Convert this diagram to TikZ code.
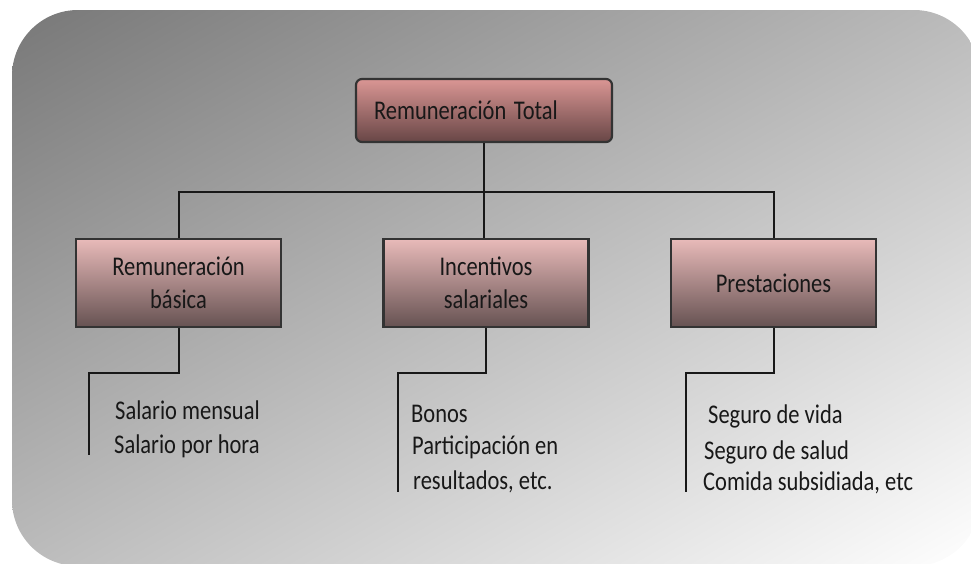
\documentclass[tikz,border=0pt]{standalone}
\usepackage{fontspec}
\setmainfont{Carlito}
\usepackage{graphicx}

\definecolor{toptop}{RGB}{218,150,148}
\definecolor{topbot}{RGB}{104,70,70}
\definecolor{boxtop}{RGB}{232,186,185}
\definecolor{boxbot}{RGB}{102,82,82}
\definecolor{ink}{RGB}{24,24,24}

% diagonal grey ramp: dark at the upper left, almost white at the lower right
% (the path's bounding box covers the central 25bp..75bp square)
\pgfdeclarefunctionalshading{panelramp}{\pgfpoint{0bp}{0bp}}{\pgfpoint{100bp}{100bp}}{}{
  sub 50 add 100 div
  dup 0 lt {pop 0} if
  dup 1 gt {pop 1} if
  0.53 mul 0.47 add
  dup 1 gt {pop 1} if
  dup dup
}

% taller-than-wide lettering
\newcommand{\tx}[1]{\scalebox{1}[1.2]{#1}}

\begin{document}
\begin{tikzpicture}[x=1pt,y=-1pt,
  every node/.style={font=\fontsize{22.5}{33}\selectfont, text=ink},
  topbox/.style={draw=black!80, line width=2.2pt, rounded corners=6pt,
    top color=toptop, bottom color=topbot,
    minimum width=256pt, minimum height=63pt,
    text width=220pt, inner xsep=18pt, inner ysep=0pt, align=left},
  catbox/.style={draw=black!80, line width=2.2pt,
    top color=boxtop, bottom color=boxbot,
    minimum width=205pt, minimum height=88pt, inner sep=0pt, align=center},
  item/.style={anchor=base west, inner sep=0pt},
  conn/.style={draw=ink, line width=2pt}
]
\useasboundingbox (0,0) rectangle (971,563);

% backdrop panel
\shade[rounded corners=66pt, shading=panelramp] (12,10) rectangle (980,566);

% boxes
\node[topbox] (top) at (484,110.5) {\tx{Remuneración Total}};
\node[catbox] (b1) at (178.5,283) {\tx{Remuneración}\\\tx{básica}};
\node[catbox] (b2) at (486,283) {\tx{Incentivos}\\\tx{salariales}};
\node[catbox] (b3) at (773.5,283) {\tx{Prestaciones}};

% tree connectors
\coordinate (bar) at (484,192);
\draw[conn] (top.south) -- (top.south |- b2.north);
\draw[conn] (b1.north) -- (b1.north |- bar) -- (b3.north |- bar) -- (b3.north);

% item brackets
\coordinate (k1) at (89,373);  \coordinate (e1) at (89,455);
\coordinate (k2) at (398,373); \coordinate (e2) at (398,492);
\coordinate (k3) at (686,373); \coordinate (e3) at (686,492);
\draw[conn] (b1.south) |- (k1) -- (e1);
\draw[conn] (b2.south) |- (k2) -- (e2);
\draw[conn] (b3.south) |- (k3) -- (e3);

% item lists
\node[item] (l1) at (115,419) {\tx{Salario mensual}};
\node[item] (l2) at (114,453) {\tx{Salario por hora}};
\node[item] (m1) at (411,422) {\tx{Bonos}};
\node[item] (m2) at (412,454) {\tx{Participación en}};
\node[item] (m3) at (413,489) {\tx{resultados, etc.}};
\node[item] (r1) at (708,423) {\tx{Seguro de vida}};
\node[item] (r2) at (704,459) {\tx{Seguro de salud}};
\node[item] (r3) at (703,490) {\tx{Comida subsidiada, etc}};
\end{tikzpicture}
\end{document}
